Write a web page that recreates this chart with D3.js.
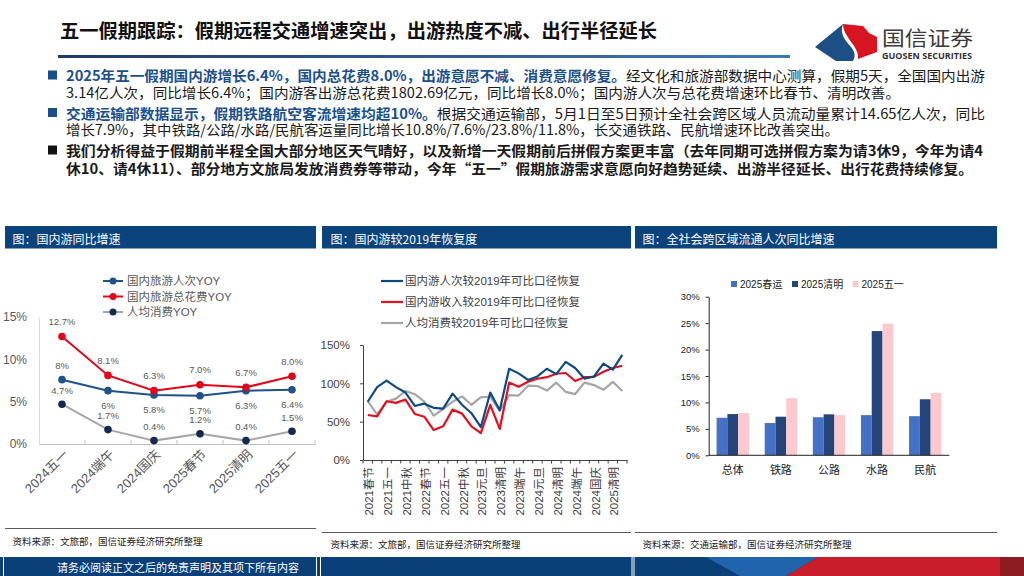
<!DOCTYPE html>
<html>
<head>
<meta charset="utf-8">
<script src="https://cdn.jsdelivr.net/npm/d3@7"></script>
<style>
  body { margin: 0; background: #fff; }
  svg { display: block; font-family: "Liberation Sans", "Noto Sans CJK SC", sans-serif; }
</style>
</head>
<body>
<svg id="page" width="1024" height="576"></svg>
<script>
// chart 1: 国内游同比增速
const cats1 = ['2024五一', '2024端午', '2024国庆', '2025春节', '2025清明', '2025五一'];
const tripYoy = [7.6, 6.3, 5.8, 5.7, 6.3, 6.4];
const tripYoyLabels = ['8%', '6%', '5.8%', '5.7%', '6.3%', '6.4%'];
const spendYoy = [12.7, 8.1, 6.3, 7.0, 6.7, 8.0];
const spendYoyLabels = ['12.7%', '8.1%', '6.3%', '7.0%', '6.7%', '8.0%'];
const perCapYoy = [4.7, 1.7, 0.4, 1.2, 0.4, 1.5];
const perCapYoyLabels = ['4.7%', '1.7%', '0.4%', '1.2%', '0.4%', '1.5%'];
const ticks1 = [0, 5, 10, 15];

// chart 2: 国内游较2019年恢复度
const cats2 = ['2021春节', '2021清明', '2021五一', '2021端午', '2021中秋', '2021国庆',
               '2022春节', '2022清明', '2022五一', '2022端午', '2022中秋', '2022国庆',
               '2023元旦', '2023春节', '2023清明', '2023五一', '2023端午', '2023中秋国庆',
               '2024元旦', '2024春节', '2024清明', '2024五一', '2024端午', '2024中秋',
               '2024国庆', '2025春节', '2025清明', '2025五一'];
const tripRec = [76, 95, 103.5, 95, 88, 70.5, 73.5, 68, 67, 86.6, 72, 61, 43, 88,
                 65, 119, 113, 104.4, 109, 119, 112, 128, 120, 106, 109, 125.7, 118, 137];
const incomeRec = [58.7, 57, 76.6, 74.5, 78.8, 60, 56.5, 39, 44, 65.7, 60.5, 44, 35, 72,
                   40.5, 101, 95.5, 102, 106, 108, 112.5, 113.5, 103, 108, 108.4, 115, 120, 123];
const perCapRec = [76.7, 59.5, 76, 80, 90, 85.8, 76, 58, 66.5, 76, 83, 72, 82, 82.5,
                   64, 84.5, 84, 97, 96.5, 90.6, 101, 88.8, 86, 101, 97.7, 91.6, 102, 90];
const ticks2 = [0, 50, 100, 150];

// chart 3: 全社会跨区域流通人次同比增速
const cats3 = ['总体', '铁路', '公路', '水路', '民航'];
const series3 = ['2025春运', '2025清明', '2025五一'];
const chunyun = [7.1, 6.1, 7.2, 7.6, 7.4];
const qingming = [7.8, 7.3, 7.75, 23.5, 10.6];
const wuyi = [8.0, 10.8, 7.6, 24.9, 11.8];
const ticks3 = [0, 5, 10, 15, 20, 25, 30];

const svg = d3.select('#page');
const CJK = '"Noto Sans CJK SC", sans-serif';
const headBlue = '#0b437c';

// ---------- page header ----------
const defs = svg.append('defs');
const grad = defs.append('linearGradient').attr('id', 'titleLine');
grad.append('stop').attr('offset', '0%').attr('stop-color', '#1f3a6b');
grad.append('stop').attr('offset', '100%').attr('stop-color', '#3f78b8');

svg.append('text')
   .attr('x', 60).attr('y', 29)
   .attr('dominant-baseline', 'central')
   .attr('font-family', CJK).attr('font-weight', 700).attr('font-size', 19)
   .attr('fill', '#111')
   .attr('textLength', 597).attr('lengthAdjust', 'spacingAndGlyphs')
   .text('五一假期跟踪：假期远程交通增速突出，出游热度不减、出行半径延长');

svg.append('rect').attr('x', 58).attr('y', 55).attr('width', 732).attr('height', 3)
   .attr('fill', 'url(#titleLine)');

// logo
svg.append('path')
   .attr('d', 'M815,47 L843,24 C839,34 846,41 851,47 C856,53 855,57 853,61 L836,61 Z')
   .attr('fill', '#1c4f86');
svg.append('path')
   .attr('d', 'M843,24 L863,26 L869,33 L877,37 L877,52 L858,59 C859,51 853,45 849,39 C845,33 843,29 843,24 Z')
   .attr('fill', '#d7141f');
svg.append('text')
   .attr('x', 882).attr('y', 37).attr('dominant-baseline', 'central')
   .attr('font-family', CJK).attr('font-size', 20).attr('fill', '#3a3a3a')
   .attr('textLength', 91).attr('lengthAdjust', 'spacingAndGlyphs')
   .text('国信证券');
svg.append('text')
   .attr('x', 882).attr('y', 55.5).attr('dominant-baseline', 'central')
   .attr('font-family', '"Open Sans", sans-serif').attr('font-weight', 700)
   .attr('font-size', 8).attr('fill', '#333')
   .attr('textLength', 90).attr('lengthAdjust', 'spacingAndGlyphs')
   .text('GUOSEN SECURITIES');

// ---------- bullets ----------
const leadBlue = '#1b4f8c';
const bulletLines = [
    { y: 75, w: 919, mark: leadBlue, parts: [
        ['2025年五一假期国内游增长6.4%，国内总花费8.0%，出游意愿不减、消费意愿修复。', 'lead'],
        ['经文化和旅游部数据中心测算，假期5天，全国国内出游', 'body']] },
    { y: 92, w: 834, parts: [
        ['3.14亿人次，同比增长6.4%；国内游客出游总花费1802.69亿元，同比增长8.0%；国内游人次与总花费增速环比春节、清明改善。', 'body']] },
    { y: 112.5, w: 919, mark: leadBlue, parts: [
        ['交通运输部数据显示，假期铁路航空客流增速均超10%。', 'lead'],
        ['根据交通运输部，5月1日至5日预计全社会跨区域人员流动量累计14.65亿人次，同比', 'body']] },
    { y: 129, w: 773, parts: [
        ['增长7.9%，其中铁路/公路/水路/民航客运量同比增长10.8%/7.6%/23.8%/11.8%，长交通铁路、民航增速环比改善突出。', 'body']] },
    { y: 150, w: 917, mark: '#111', parts: [
        ['我们分析得益于假期前半程全国大部分地区天气晴好，以及新增一天假期前后拼假方案更丰富（去年同期可选拼假方案为请3休9，今年为请4', 'bold']] },
    { y: 167.5, w: 907, parts: [
        ['休10、请4休11）、部分地方文旅局发放消费券等带动，今年“五一”假期旅游需求意愿向好趋势延续、出游半径延长、出行花费持续修复。', 'bold']] }
];

bulletLines.forEach(line => {
    if (line.mark) {
        svg.append('rect').attr('x', 48).attr('y', line.y - 4.5)
           .attr('width', 9).attr('height', 9).attr('fill', line.mark);
    }
    const t = svg.append('text')
       .attr('x', 66).attr('y', line.y)
       .attr('dominant-baseline', 'central')
       .attr('font-family', CJK).attr('font-size', 14)
       .attr('textLength', line.w).attr('lengthAdjust', 'spacingAndGlyphs');
    line.parts.forEach(([txt, kind]) => {
        t.append('tspan')
         .attr('fill', kind === 'lead' ? leadBlue : '#1a1a1a')
         .attr('font-weight', kind === 'body' ? 400 : 700)
         .text(txt);
    });
});

// ---------- panel frames ----------
const panels = [
    { x: 5, w: 311, title: '图：国内游同比增速', lineY: 528.5, src: '资料来源：文旅部，国信证券经济研究所整理', srcY: 540.5, tx: 12.5 },
    { x: 322, w: 309, title: '图：国内游较2019年恢复度', lineY: 532.5, src: '资料来源：文旅部，国信证券经济研究所整理', srcY: 543.5, tx: 330.5 },
    { x: 635, w: 362, title: '图：全社会跨区域流通人次同比增速', lineY: 532.5, src: '资料来源：交通运输部，国信证券经济研究所整理', srcY: 543.5, tx: 642.5 }
];
panels.forEach(p => {
    svg.append('rect').attr('x', p.x).attr('y', 226).attr('width', p.w).attr('height', 22.5)
       .attr('fill', headBlue);
    svg.append('text').attr('x', p.tx).attr('y', 238)
       .attr('dominant-baseline', 'central')
       .attr('font-family', CJK).attr('font-size', 12).attr('fill', '#fff')
       .text(p.title);
    svg.append('line').attr('x1', p.x).attr('x2', p.x + p.w)
       .attr('y1', p.lineY).attr('y2', p.lineY)
       .attr('stroke', '#595959').attr('stroke-width', 1);
    svg.append('text').attr('x', p.tx).attr('y', p.srcY)
       .attr('dominant-baseline', 'central')
       .attr('font-family', CJK).attr('font-size', 9.5).attr('fill', '#222')
       .text(p.src);
});

// ---------- chart 1 ----------
function renderChart1() {
    const g = svg.append('g');
    const x = d3.scaleBand().domain(cats1).range([39, 315]);
    const y = d3.scaleLinear().domain([0, 15]).range([444, 317]);
    const cx = i => x(cats1[i]) + x.bandwidth() / 2;

    const yAxis = g.append('g')
       .attr('transform', 'translate(39,0)')
       .call(d3.axisLeft(y).tickValues(ticks1).tickFormat(d => d + '%').tickSize(0).tickPadding(12));
    yAxis.select('.domain').attr('stroke', '#d9d9d9');
    yAxis.selectAll('text').attr('font-size', 12).attr('fill', '#595959');

    const xAxis = g.append('g')
       .attr('transform', 'translate(0,444)')
       .call(d3.axisBottom(x).tickSize(0).tickFormat(''));
    xAxis.select('.domain').attr('stroke', '#bfbfbf');

    g.selectAll('.tick1')
     .data(cats1.slice(1).concat(['end']))
     .enter().append('line')
     .attr('x1', (d, i) => x.range()[0] + x.step() * (i + 1))
     .attr('x2', (d, i) => x.range()[0] + x.step() * (i + 1))
     .attr('y1', 440).attr('y2', 444)
     .attr('stroke', '#bfbfbf');

    g.selectAll('.xlab1')
     .data(cats1)
     .enter().append('text')
     .attr('transform', (d, i) => `translate(${cx(i) + 4},452) rotate(-45)`)
     .attr('text-anchor', 'end')
     .attr('dominant-baseline', 'central')
     .attr('font-size', 13).attr('fill', '#595959')
     .text(d => d);

    const line = d3.line().x((d, i) => cx(i)).y(d => y(d));
    const series = [
        { vals: perCapYoy, labels: perCapYoyLabels, stroke: '#a6a6a6', dot: '#13294f', off: () => -14 },
        { vals: tripYoy, labels: tripYoyLabels, stroke: '#1e5288', dot: '#1e5288', off: i => i === 0 ? -14 : 15 },
        { vals: spendYoy, labels: spendYoyLabels, stroke: '#e1061a', dot: '#e1061a', off: () => -15 }
    ];
    series.forEach(s => {
        g.append('path').datum(s.vals)
         .attr('d', line).attr('fill', 'none')
         .attr('stroke', s.stroke).attr('stroke-width', 2);
        g.selectAll(null).data(s.vals).enter().append('circle')
         .attr('cx', (d, i) => cx(i)).attr('cy', d => y(d)).attr('r', 3.8)
         .attr('fill', s.dot);
        g.selectAll(null).data(s.vals).enter().append('text')
         .attr('x', (d, i) => cx(i)).attr('y', (d, i) => y(d) + s.off(i))
         .attr('text-anchor', 'middle').attr('dominant-baseline', 'central')
         .attr('font-size', 9.5).attr('fill', '#595959')
         .text((d, i) => s.labels[i]);
    });

    // legend
    const legend = [
        { name: '国内旅游人次YOY', stroke: '#1e5288', dot: '#1e5288', y: 281 },
        { name: '国内旅游总花费YOY', stroke: '#e1061a', dot: '#e1061a', y: 296.5 },
        { name: '人均消费YOY', stroke: '#a6a6a6', dot: '#13294f', y: 312 }
    ];
    legend.forEach(l => {
        g.append('line').attr('x1', 103).attr('x2', 123).attr('y1', l.y).attr('y2', l.y)
         .attr('stroke', l.stroke).attr('stroke-width', 2);
        g.append('circle').attr('cx', 113).attr('cy', l.y).attr('r', 3.5).attr('fill', l.dot);
        g.append('text').attr('x', 127).attr('y', l.y)
         .attr('dominant-baseline', 'central')
         .attr('font-size', 11.5).attr('fill', '#595959')
         .text(l.name);
    });
}

// ---------- chart 2 ----------
function renderChart2() {
    const g = svg.append('g');
    const x = d3.scaleBand().domain(cats2).range([363, 627]);
    const y = d3.scaleLinear().domain([0, 150]).range([460, 345]);
    const cx = i => x(cats2[i]) + x.bandwidth() / 2;

    const yAxis = g.append('g')
       .attr('transform', 'translate(363,0)')
       .call(d3.axisLeft(y).tickValues(ticks2).tickFormat(d => d + '%').tickSize(3).tickSizeOuter(0).tickPadding(10));
    yAxis.select('.domain').attr('stroke', '#404040');
    yAxis.selectAll('.tick line').attr('stroke', '#404040');
    yAxis.selectAll('text').attr('font-size', 11.5).attr('fill', '#404040');

    const xAxis = g.append('g')
       .attr('transform', 'translate(0,460)')
       .call(d3.axisBottom(x).tickSize(0).tickFormat(''));
    xAxis.select('.domain').attr('stroke', '#404040');

    g.selectAll('.tick2')
     .data(d3.range(cats2.length + 1))
     .enter().append('line')
     .attr('x1', i => x.range()[0] + x.step() * i)
     .attr('x2', i => x.range()[0] + x.step() * i)
     .attr('y1', 460).attr('y2', 463.5)
     .attr('stroke', '#404040');

    g.selectAll('.xlab2')
     .data(cats2.filter((d, i) => i % 2 === 0))
     .enter().append('text')
     .attr('transform', d => `translate(${x(d) + x.bandwidth() / 2 + 1.5},467) rotate(-90)`)
     .attr('text-anchor', 'end')
     .attr('dominant-baseline', 'central')
     .attr('font-size', 11.5).attr('fill', '#404040')
     .text(d => d);

    const line = d3.line().x((d, i) => cx(i)).y(d => y(d));
    const series = [
        { vals: perCapRec, stroke: '#a6a6a6' },
        { vals: incomeRec, stroke: '#e2101e' },
        { vals: tripRec, stroke: '#0d4a84' }
    ];
    series.forEach(s => {
        g.append('path').datum(s.vals)
         .attr('d', line).attr('fill', 'none')
         .attr('stroke', s.stroke).attr('stroke-width', 2.2)
         .attr('stroke-linejoin', 'round');
    });

    const legend = [
        { name: '国内游人次较2019年可比口径恢复', stroke: '#0d4a84', y: 281 },
        { name: '国内游收入较2019年可比口径恢复', stroke: '#e2101e', y: 302 },
        { name: '人均消费较2019年可比口径恢复', stroke: '#a6a6a6', y: 323 }
    ];
    legend.forEach(l => {
        g.append('line').attr('x1', 381).attr('x2', 403).attr('y1', l.y).attr('y2', l.y)
         .attr('stroke', l.stroke).attr('stroke-width', 2.2);
        g.append('text').attr('x', 405).attr('y', l.y)
         .attr('dominant-baseline', 'central')
         .attr('font-size', 11.5).attr('fill', '#404040')
         .text(l.name);
    });
}

// ---------- chart 3 ----------
function renderChart3() {
    const g = svg.append('g');
    const x0 = d3.scaleBand().domain(cats3).range([708.7, 949.3]);
    const x1 = d3.scaleBand().domain(series3).range([0, x0.bandwidth()]).paddingOuter(0.73);
    const y = d3.scaleLinear().domain([0, 30]).range([455.3, 296.7]);
    const colors = { '2025春运': '#4472c4', '2025清明': '#25447a', '2025五一': '#fbc9ce' };
    const valsBy = { '2025春运': chunyun, '2025清明': qingming, '2025五一': wuyi };

    const yAxis = g.append('g')
       .attr('transform', 'translate(708.7,0)')
       .call(d3.axisLeft(y).tickValues(ticks3).tickFormat(d => d + '%').tickSize(3).tickSizeOuter(0).tickPadding(6));
    yAxis.select('.domain').attr('stroke', '#222');
    yAxis.selectAll('.tick line').attr('stroke', '#222');
    yAxis.selectAll('text').attr('font-size', 9.5).attr('fill', '#222');

    series3.forEach(s => {
        g.selectAll(null)
         .data(valsBy[s])
         .enter().append('rect')
         .attr('x', (d, i) => x0(cats3[i]) + x1(s))
         .attr('y', d => y(d))
         .attr('width', x1.bandwidth())
         .attr('height', d => y(0) - y(d))
         .attr('fill', colors[s]);
    });

    g.append('line').attr('x1', 708.7).attr('x2', 949.3).attr('y1', 455.3).attr('y2', 455.3)
     .attr('stroke', '#222');

    g.selectAll('.xlab3')
     .data(cats3)
     .enter().append('text')
     .attr('x', d => x0(d) + x0.bandwidth() / 2)
     .attr('y', 469.5)
     .attr('text-anchor', 'middle').attr('dominant-baseline', 'central')
     .attr('font-size', 11).attr('fill', '#222')
     .text(d => d);

    const legX = [731, 792, 852.5];
    series3.forEach((s, i) => {
        g.append('rect').attr('x', legX[i]).attr('y', 281).attr('width', 6).attr('height', 6)
         .attr('fill', colors[s]);
        g.append('text').attr('x', legX[i] + 9).attr('y', 284)
         .attr('dominant-baseline', 'central')
         .attr('font-size', 10).attr('fill', '#222')
         .text(s);
    });
}

renderChart1();
renderChart2();
renderChart3();

// ---------- footer ----------
const foot = svg.append('g');
foot.append('rect').attr('x', 0).attr('y', 557).attr('width', 1024).attr('height', 19).attr('fill', '#0b3f78');
foot.append('polygon').attr('points', '706,557 818,557 786,576 740,576').attr('fill', '#1f64ad');
foot.append('polygon').attr('points', '818,557 1000,557 1000,576 786,576').attr('fill', '#c91d2b');
foot.append('rect').attr('x', 1000).attr('y', 557).attr('width', 24).attr('height', 19).attr('fill', '#8e1b22');
[3.5, 316.5, 320.5, 632, 634].forEach(xx => {
    foot.append('line').attr('x1', xx).attr('x2', xx).attr('y1', 557).attr('y2', 576)
        .attr('stroke', '#fff').attr('stroke-width', 1);
});
foot.append('text').attr('x', 178).attr('y', 567)
    .attr('text-anchor', 'middle').attr('dominant-baseline', 'central')
    .attr('font-family', CJK).attr('font-size', 11).attr('fill', '#fff')
    .text('请务必阅读正文之后的免责声明及其项下所有内容');
</script>
</body>
</html>
